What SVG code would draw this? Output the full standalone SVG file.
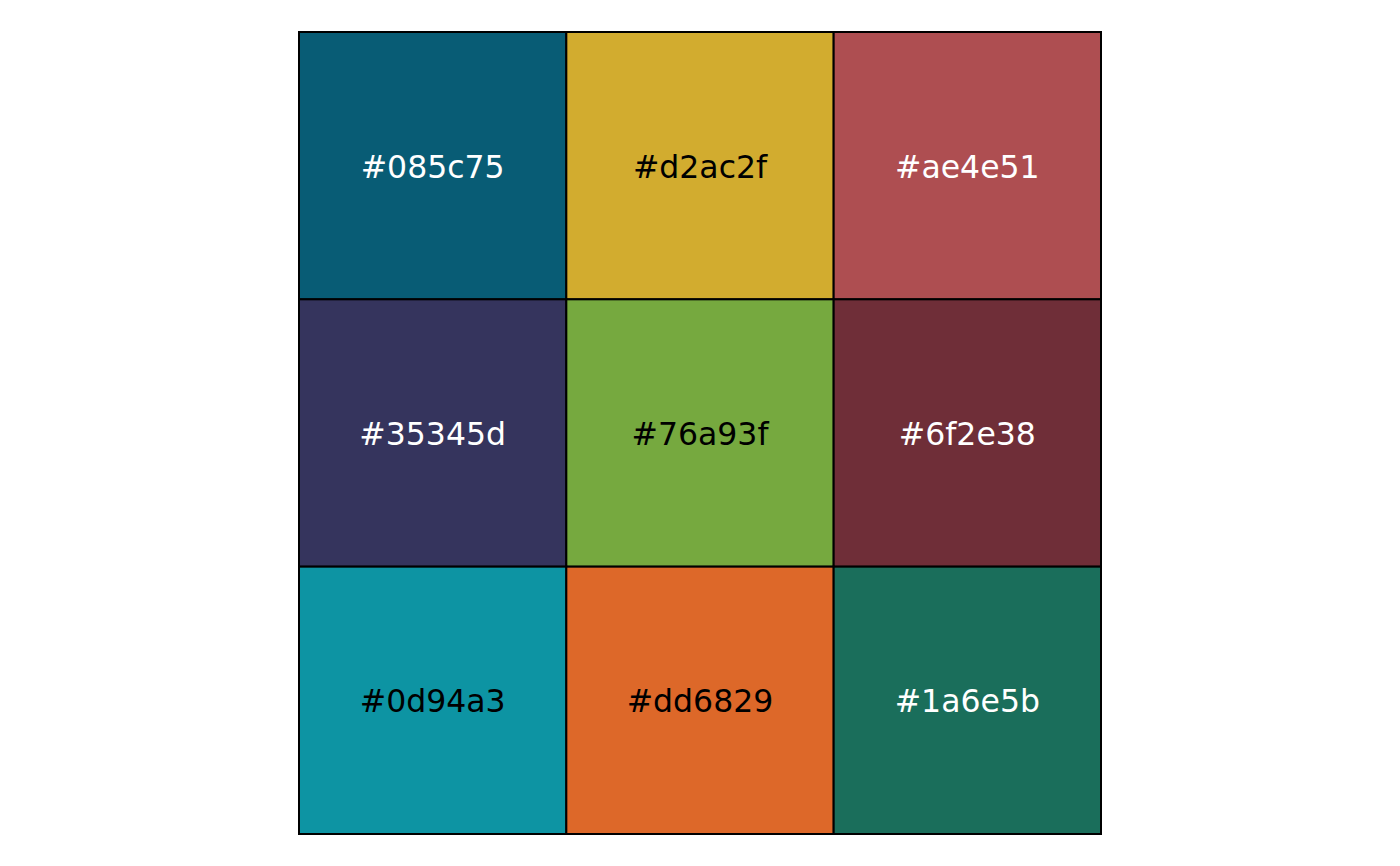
<svg xmlns="http://www.w3.org/2000/svg" width="1400" height="866" viewBox="0 0 1400 866">
<style>
.cell{stroke:#000;stroke-width:2}
.lbl{font-family:"DejaVu Sans",sans-serif;font-size:31.5px;text-anchor:middle}
.w{fill:#ffffff}
.b{fill:#000000}
</style>
<rect width="1400" height="866" fill="#ffffff"/>
<g id="c1"><rect class="cell" x="299" y="32" width="267.33" height="267.33" fill="#085c75"/><text class="lbl w" x="432.67" y="177.5">#085c75</text></g>
<g id="c2"><rect class="cell" x="566.33" y="32" width="267.33" height="267.33" fill="#d2ac2f"/><text class="lbl b" x="700" y="177.5">#d2ac2f</text></g>
<g id="c3"><rect class="cell" x="833.67" y="32" width="267.33" height="267.33" fill="#ae4e51"/><text class="lbl w" x="967.33" y="177.5">#ae4e51</text></g>
<g id="c4"><rect class="cell" x="299" y="299.33" width="267.33" height="267.33" fill="#35345d"/><text class="lbl w" x="432.67" y="444.8">#35345d</text></g>
<g id="c5"><rect class="cell" x="566.33" y="299.33" width="267.33" height="267.33" fill="#76a93f"/><text class="lbl b" x="700" y="444.8">#76a93f</text></g>
<g id="c6"><rect class="cell" x="833.67" y="299.33" width="267.33" height="267.33" fill="#6f2e38"/><text class="lbl w" x="967.33" y="444.8">#6f2e38</text></g>
<g id="c7"><rect class="cell" x="299" y="566.67" width="267.33" height="267.33" fill="#0d94a3"/><text class="lbl b" x="432.67" y="712.1">#0d94a3</text></g>
<g id="c8"><rect class="cell" x="566.33" y="566.67" width="267.33" height="267.33" fill="#dd6829"/><text class="lbl b" x="700" y="712.1">#dd6829</text></g>
<g id="c9"><rect class="cell" x="833.67" y="566.67" width="267.33" height="267.33" fill="#1a6e5b"/><text class="lbl w" x="967.33" y="712.1">#1a6e5b</text></g>
<g id="connectors"></g>
</svg>
